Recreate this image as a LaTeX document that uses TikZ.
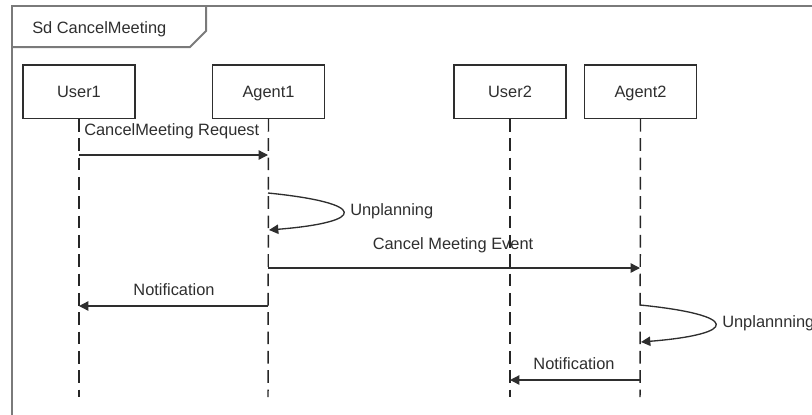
\documentclass[tikz,border=0pt]{standalone}
\usepackage{fontspec}
\setmainfont{Liberation Sans}
\usetikzlibrary{arrows.meta}
\definecolor{framegray}{HTML}{7A7A7A}
\definecolor{inkgray}{HTML}{2E2E2E}
\begin{document}
\begin{tikzpicture}[x=0.75pt,y=-0.75pt,
  every node/.style={font=\fontsize{12.3pt}{14pt}\selectfont, text=inkgray, inner sep=0pt},
  framebox/.style={draw=framegray, line width=1.5pt},
  objbox/.style={draw=inkgray, line width=1pt, minimum width=84pt, minimum height=40pt, inner sep=0pt, text height=9pt, text depth=0pt},
  lifeline/.style={draw=black!85, line width=1.1pt, dash pattern=on 9.5pt off 5pt},
  msg/.style={draw=inkgray, line width=1pt, -{Triangle[length=7pt,width=7pt]}},
  lbl/.style={anchor=center}]
\useasboundingbox (0,0) rectangle (812,414);
% frame
\draw[framebox] (12,6) rectangle (840,440);
\draw[framebox] (12,47) -- (190,47) -- (206,31) -- (206,6);
\node[anchor=west] (title) at (32,29) {Sd CancelMeeting};
% objects
\node[objbox] (user1) at (79,91.5) {User1};
\node[objbox] (agent1) at (268.5,91.5) {Agent1};
\node[objbox] (user2) at (510,91.5) {User2};
\node[objbox] (agent2) at (640.5,91.5) {Agent2};
% lifeline ends
\coordinate (u1end) at (79,397);
\coordinate (a1end) at (268,397);
\coordinate (u2end) at (510,397);
\coordinate (a2end) at (640,397);
\draw[lifeline] (user1.south) -- (u1end);
\draw[lifeline] (agent1.south) -- (a1end);
\draw[lifeline] (user2.south) -- (u2end);
\draw[lifeline] (agent2.south) -- (a2end);
% message points
\coordinate (m1s) at (79,155);
\coordinate (m1e) at (268,155);
\coordinate (s1s) at (268,193);
\coordinate (s1e) at (269,230);
\coordinate (m3s) at (268,268);
\coordinate (m3e) at (640,268);
\coordinate (m4s) at (268,306);
\coordinate (m4e) at (79,306);
\coordinate (s2s) at (640,305);
\coordinate (s2e) at (641,342);
\coordinate (m6s) at (640,380);
\coordinate (m6e) at (510,380);
% messages
\draw[msg] (m1s) -- (m1e);
\node[anchor=west] (l1) at (84,131) {CancelMeeting Request};
\draw[msg] (s1s) .. controls (368,203) and (368,222) .. (s1e);
\node[anchor=west] (l2) at (350,211) {Unplanning};
\draw[msg] (m3s) -- (m3e);
\node[lbl] (l3) at (453,245) {Cancel Meeting Event};
\draw[msg] (m4s) -- (m4e);
\node[lbl] (l4) at (174,290) {Notification};
\draw[msg] (s2s) .. controls (740,315) and (740,334) .. (s2e);
\node[anchor=west] (l5) at (722,323) {Unplannning};
\draw[msg] (m6s) -- (m6e);
\node[lbl] (l6) at (574,364) {Notification};
\end{tikzpicture}
\end{document}
